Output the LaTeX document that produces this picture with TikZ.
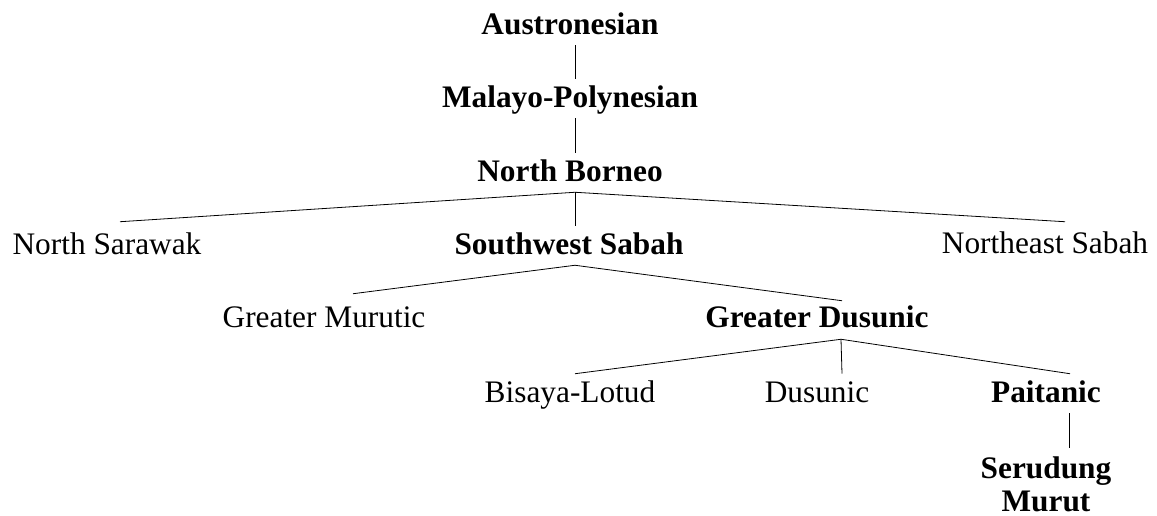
\documentclass[tikz,border=0pt]{standalone}
\usepackage{fontspec}
\setmainfont{Liberation Serif}
\begin{document}
\begin{tikzpicture}[x=0.75pt,y=-0.75pt,
  txt/.style={font=\fontsize{23.5pt}{24.75pt}\selectfont, inner xsep=0pt},
  lab/.style={txt, anchor=base, text height=16.5pt, text depth=2.25pt, inner ysep=5.25pt},
  bold/.style={font=\fontsize{23.5pt}{24.75pt}\selectfont\bfseries},
  edge/.style={draw=black, line width=0.6pt}]
\useasboundingbox (0,0) rectangle (1157,516);
% nodes
\node[lab,bold] (aus) at (570,35) {Austronesian};
\node[lab,bold] (mp)  at (570,108) {Malayo-Polynesian};
\node[lab,bold] (nb)  at (570,182) {North Borneo};
\node[lab]      (ns)  at (107,255) {North Sarawak};
\node[lab,bold] (sws) at (569,255) {Southwest Sabah};
\node[lab]      (nes) at (1045,254) {Northeast Sabah};
\node[lab]      (gm)  at (324,328) {Greater Murutic};
\node[lab,bold] (gd)  at (817,328) {Greater Dusunic};
\node[lab]      (bl)  at (570,403) {Bisaya-Lotud};
\node[lab]      (dus) at (817,403) {Dusunic};
\node[lab,bold] (pai) at (1046,403) {Paitanic};
\node[txt,bold,align=center,anchor=north,inner ysep=6pt] (ser) at (1046,448) {Serudung\\Murut};
% connectors
\draw[edge] ([shift={(5,0)}]aus.south) -- ([shift={(5,0)}]mp.north);
\draw[edge] ([shift={(5,0)}]mp.south) -- ([shift={(5,0)}]nb.north);
\draw[edge] ([shift={(5,0)}]nb.south) -- ([shift={(13,-4)}]ns.north);
\draw[edge] ([shift={(5,0)}]nb.south) -- ([shift={(6,0)}]sws.north);
\draw[edge] ([shift={(5,0)}]nb.south) -- ([shift={(20,-3)}]nes.north);
\draw[edge] ([shift={(6,0)}]sws.south) -- ([shift={(29,-5)}]gm.north);
\draw[edge] ([shift={(6,0)}]sws.south) -- ([shift={(25,2)}]gd.north);
\draw[edge] ([shift={(24,1)}]gd.south) -- ([shift={(5,0)}]bl.north);
\draw[edge] ([shift={(24,1)}]gd.south) -- ([shift={(25,0)}]dus.north);
\draw[edge] ([shift={(24,1)}]gd.south) -- ([shift={(24,0)}]pai.north);
\draw[edge] ([shift={(23,0)}]pai.south) -- ([shift={(23,0)}]ser.north);
\end{tikzpicture}
\end{document}
